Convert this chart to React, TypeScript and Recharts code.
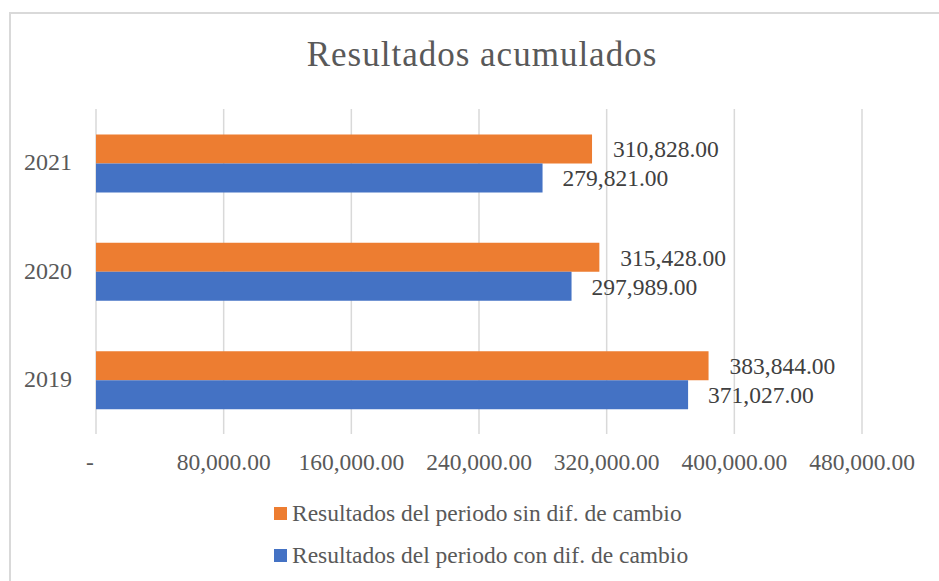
import React from "react";
import { BarChart, Bar, XAxis, YAxis, CartesianGrid, Legend, LabelList } from "recharts";

const years = ["2021", "2020", "2019"];
const sinDif = [310828, 315428, 383844];
const conDif = [279821, 297989, 371027];
const xTicks = [0, 80000, 160000, 240000, 320000, 400000, 480000];

const SIN_NAME = "Resultados del periodo sin dif. de cambio";
const CON_NAME = "Resultados del periodo con dif. de cambio";

const data = years.map((y, i) => ({ year: y, sin: sinDif[i], con: conDif[i] }));

const FONT = "'Liberation Serif', 'Times New Roman', serif";
const fmt = (v: number) =>
  v.toLocaleString("en-US", { minimumFractionDigits: 2, maximumFractionDigits: 2 });

const XTick = (props: any) => {
  const { x, y, payload } = props;
  const v = payload.value as number;
  return (
    <text
      x={x + (v === 0 ? -6 : 0)}
      y={y}
      dy={28}
      textAnchor="middle"
      fill="#595959"
      fontSize={23.5}
      fontFamily={FONT}
    >
      {v === 0 ? "-" : fmt(v)}
    </text>
  );
};

const YTick = (props: any) => {
  const { y, payload } = props;
  return (
    <text x={72} y={y} dy={7} textAnchor="end" fill="#595959" fontSize={24} fontFamily={FONT}>
      {payload.value}
    </text>
  );
};

const LegendContent = () => {
  const items = [
    { name: SIN_NAME, color: "#ED7D31" },
    { name: CON_NAME, color: "#4472C4" },
  ];
  return (
    <div style={{ position: "absolute", left: 274, top: 0 }}>
      {items.map((it) => (
        <div
          key={it.name}
          style={{
            display: "flex",
            alignItems: "center",
            height: 42,
            fontFamily: FONT,
            fontSize: 23.5,
            color: "#595959",
            whiteSpace: "nowrap",
          }}
        >
          <span style={{ display: "inline-block", width: 13, height: 13, background: it.color, marginRight: 5 }} />
          {it.name}
        </div>
      ))}
    </div>
  );
};

export default function App() {
  return (
    <div style={{ position: "absolute", left: 0, top: 0, width: 939, height: 581, background: "#fff", overflow: "hidden" }}>
      <div
        style={{
          position: "absolute",
          left: 9,
          top: 12,
          width: 960,
          height: 600,
          borderLeft: "2px solid #D9D9D9",
          borderTop: "2px solid #D9D9D9",
        }}
      />
      <div
        style={{
          position: "absolute",
          left: 0,
          width: 964,
          top: 35,
          textAlign: "center",
          fontFamily: FONT,
          fontSize: 35,
          letterSpacing: 1,
          color: "#595959",
          lineHeight: "40px",
        }}
      >
        Resultados acumulados
      </div>
      <div style={{ position: "absolute", left: 0, top: 0 }}>
        <BarChart
          width={939}
          height={581}
          data={data}
          layout="vertical"
          margin={{ top: 109, right: 77, bottom: 0, left: 0 }}
          barCategoryGap="23.5%"
          barGap={0}
        >
          <CartesianGrid horizontal={false} stroke="#D9D9D9" strokeWidth={1.5} />
          <XAxis
            type="number"
            domain={[0, 480000]}
            ticks={xTicks}
            interval={0}
            axisLine={false}
            tickLine={false}
            tick={<XTick />}
            height={67}
          />
          <YAxis
            type="category"
            dataKey="year"
            width={96}
            axisLine={false}
            tickLine={false}
            tick={<YTick />}
          />
          <Legend
            verticalAlign="bottom"
            height={80}
            content={<LegendContent />}
            wrapperStyle={{ left: 0, width: 939, bottom: 0, height: 80, top: 492 }}
          />
          <Bar dataKey="sin" name={SIN_NAME} fill="#ED7D31" isAnimationActive={false}>
            <LabelList
              dataKey="sin"
              position="right"
              offset={21}
              formatter={(v: any) => fmt(Number(v))}
              fill="#404040"
              fontSize={23.5}
              fontFamily={FONT}
            />
          </Bar>
          <Bar dataKey="con" name={CON_NAME} fill="#4472C4" isAnimationActive={false}>
            <LabelList
              dataKey="con"
              position="right"
              offset={20}
              formatter={(v: any) => fmt(Number(v))}
              fill="#404040"
              fontSize={23.5}
              fontFamily={FONT}
            />
          </Bar>
        </BarChart>
      </div>
    </div>
  );
}
